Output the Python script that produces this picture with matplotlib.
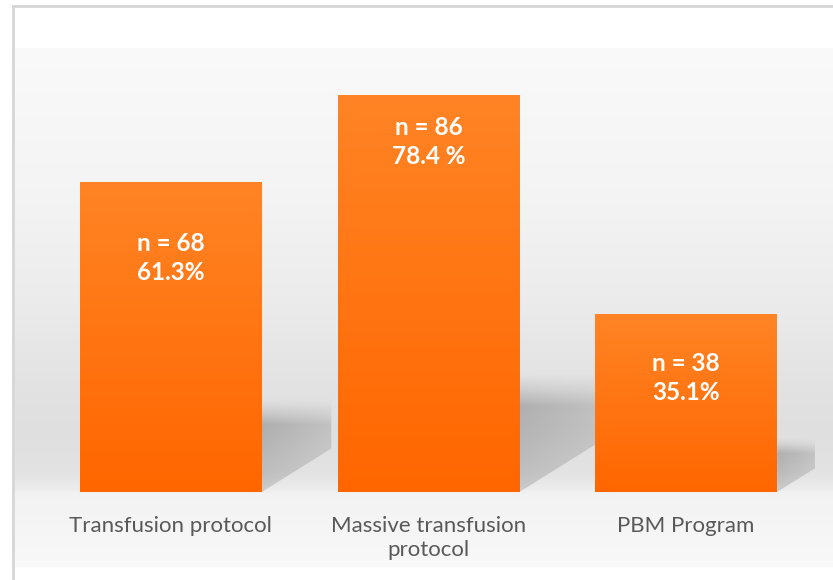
import numpy as np
import matplotlib
matplotlib.use('Agg')
import matplotlib.pyplot as plt
from matplotlib.patches import Polygon
from matplotlib.colors import LinearSegmentedColormap

# data
categories = ['Transfusion protocol', 'Massive transfusion\nprotocol', 'PBM Program']
counts = [68, 86, 38]
percent = [61.3, 78.4, 35.1]
percent_labels = ['61.3%', '78.4 %', '35.1%']

# offset of the label block below each bar top (points)
label_drop = [55, 34, 46]

plt.rcParams['font.family'] = ['Lato', 'DejaVu Sans']

W, H = 833, 580
fig = plt.figure(figsize=(W / 100, H / 100), dpi=100)
fig.patch.set_facecolor('white')

def px_rect(x0, y0, x1, y1):
    # pixel box (top-left origin) -> figure fraction rect
    return [x0 / W, 1 - y1 / H, (x1 - x0) / W, (y1 - y0) / H]

# grey backdrop panel with vertical gradient
bg = fig.add_axes(px_rect(15, 48, W, 567))
bg.set_axis_off()
stops = [(0.00, 0.980), (0.29, 0.955), (0.48, 0.925), (0.64, 0.890),
         (0.74, 0.875), (0.82, 0.890), (0.85, 0.925), (0.86, 0.950),
         (1.00, 0.975)]
yy = np.linspace(0, 1, 400)
g = np.interp(yy, [s[0] for s in stops], [s[1] for s in stops])
bg.imshow(g[:, None, None] * np.ones((1, 3, 3)),
          aspect='auto', extent=[0, 1, 0, 1], origin='upper')
bg.set_xlim(0, 1)
bg.set_ylim(0, 1)

# frame lines of the chart area
fig.add_artist(plt.Line2D([13 / W, 13 / W], [0, 1 - 6 / H], color='#d6d6d6', lw=2))
fig.add_artist(plt.Line2D([13 / W, 1], [1 - 6 / H, 1 - 6 / H], color='#d6d6d6', lw=2))

ax = fig.add_axes(px_rect(42, 48, 815, 492))
ax.patch.set_alpha(0)
x = np.arange(len(categories))
bars = ax.bar(x, percent, width=0.706, color='#ff7514', zorder=3)

# soft cast shadows to the right of each bar
for b in bars:
    xr = b.get_x() + b.get_width()
    h = b.get_height()
    L = 0.0044 * h
    D = 0.14 * h
    top = 0.30 * h
    poly = Polygon([(xr, 0), (xr + L, D), (xr + L, top), (xr, top)],
                   closed=True, facecolor='none', edgecolor='none',
                   transform=ax.transData)
    ax.add_patch(poly)
    ny, nx = 100, 60
    f = np.linspace(1, 0, ny)[:, None]
    gx = np.linspace(0, 1, nx)[None, :]
    a = np.where(f < 0.72, 0.26 + 0.16 * f / 0.72,
                 0.42 * np.clip((1 - f) / 0.28, 0, 1) ** 1.3)
    a = a * (1 - 0.4 * gx)
    img = np.zeros((ny, nx, 4))
    img[..., :3] = 0.42
    img[..., 3] = a
    im = ax.imshow(img, extent=[xr, xr + L, 0, top], aspect='auto',
                   origin='upper', zorder=2, interpolation='bilinear')
    im.set_clip_path(poly)

# orange vertical gradient on bars
orange = LinearSegmentedColormap.from_list('bar', ['#ff8425', '#ff6600'])
grad = np.linspace(0, 1, 256)[:, None]
for b in bars:
    im = ax.imshow(grad, cmap=orange, extent=[b.get_x(), b.get_x() + b.get_width(), 0, b.get_height()],
                   aspect='auto', origin='upper', zorder=4)
    im.set_clip_path(b)

for b, n, pl, d in zip(bars, counts, percent_labels, label_drop):
    ax.annotate(f'n = {n}\n{pl}', (b.get_x() + b.get_width() / 2, b.get_height()),
                xytext=(0, -d), textcoords='offset points', ha='center', va='center',
                color='white', fontsize=17.5, fontweight='bold', linespacing=1.3, zorder=5)

ax.set_xlim(-0.5, 2.5)
ax.set_ylim(0, 444 / 5.064)
ax.set_xticks(x)
ax.set_xticklabels(categories, fontsize=16, color='#595959', linespacing=1.22)
ax.tick_params(axis='x', length=0, pad=17.5)
ax.set_yticks([])
for s in ax.spines.values():
    s.set_visible(False)

fig.savefig('out.png', dpi=100)
